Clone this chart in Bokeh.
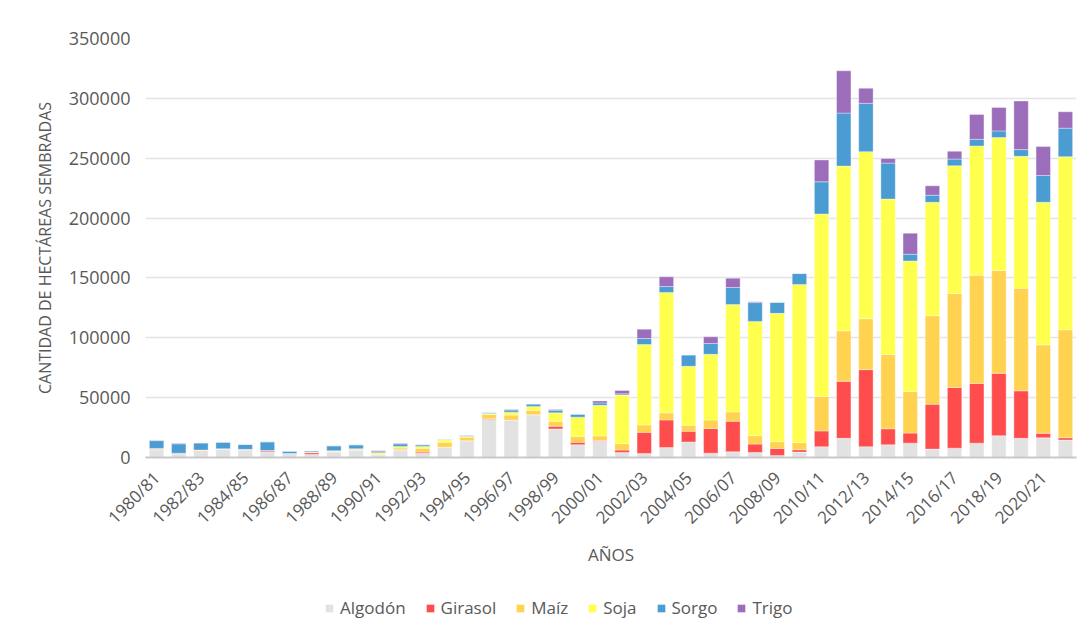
from bokeh.plotting import figure
from bokeh.layouts import column
from bokeh.models import FixedTicker, NumeralTickFormatter, Range1d, Legend, LegendItem
from bokeh.embed import file_html
from bokeh.resources import INLINE
import math

years = ["1980/81", "1981/82", "1982/83", "1983/84", "1984/85", "1985/86", "1986/87",
         "1987/88", "1988/89", "1989/90", "1990/91", "1991/92", "1992/93", "1993/94",
         "1994/95", "1995/96", "1996/97", "1997/98", "1998/99", "1999/00", "2000/01",
         "2001/02", "2002/03", "2003/04", "2004/05", "2005/06", "2006/07", "2007/08",
         "2008/09", "2009/10", "2010/11", "2011/12", "2012/13", "2013/14", "2014/15",
         "2015/16", "2016/17", "2017/18", "2018/19", "2019/20", "2020/21", "2021/22"]

algodon = [6500, 3000, 5200, 7000, 6300, 4700, 3100, 2800, 4800, 6400, 2300, 6400, 3600, 8600,
           14000, 31800, 31200, 35700, 23900, 10700, 13500, 4200,
           3400, 8400, 12900, 3600, 4800, 4200, 1700, 4500,
           9000, 16000, 9000, 10600, 12000, 7000, 7800, 12000, 18200, 16000, 16500, 14600]
girasol = [300, 600, 500, 0, 500, 1100, 300, 1400, 0, 0, 0, 0, 900, 0,
           0, 500, 0, 0, 2200, 2000, 800, 2000,
           17600, 23000, 9000, 20700, 25500, 7000, 5900, 2000,
           13200, 47600, 64400, 13400, 8400, 37500, 50700, 49900, 52100, 39700, 3700, 1900]
maiz = [500, 0, 500, 300, 0, 0, 0, 300, 400, 600, 500, 1500, 3300, 4200,
        3000, 3600, 4200, 3600, 4200, 5000, 3700, 5300,
        6200, 5900, 5000, 7000, 7800, 7000, 5600, 5900,
        28800, 42200, 42500, 62100, 34800, 73900, 78400, 90400, 85900, 85700, 73900, 90200]
soja = [300, 0, 0, 0, 0, 0, 0, 0, 400, 300, 1200, 1300, 1400, 2000,
        800, 800, 2500, 3400, 7000, 16000, 25600, 40700,
        67200, 100500, 49300, 54900, 89600, 95500, 107200, 132200,
        152400, 137600, 139600, 129800, 109000, 94800, 106800, 107900, 111000, 110200, 119100, 144600]
sorgo = [6500, 7800, 6000, 5500, 4100, 7300, 1900, 1000, 4200, 3300, 800, 2200, 1400, 500,
         700, 800, 1700, 2000, 2200, 2500, 2000, 1000,
         5000, 5000, 9500, 9000, 14300, 15700, 9200, 9200,
         26900, 44300, 40300, 30000, 5600, 5900, 5600, 5600, 5600, 5600, 22400, 23800]
trigo = [300, 500, 0, 0, 0, 0, 0, 0, 0, 0, 800, 400, 0, 0,
         0, 0, 500, 0, 500, 0, 1700, 2800,
         7800, 8100, 0, 5600, 7800, 800, 0, 0,
         18200, 35300, 12600, 3900, 17600, 7800, 6500, 20800, 19600, 40600, 24100, 13700]

series_names = ["Algodón", "Girasol", "Maíz", "Soja", "Sorgo", "Trigo"]
colors = ["#e2e2e2", "#ff4d4d", "#ffd24f", "#ffff4d", "#4b9cd3", "#9b6dbb"]
y_ticks = [0, 50000, 100000, 150000, 200000, 250000, 300000, 350000]

idx = list(range(len(years)))
data = {"x": idx, "Algodón": algodon, "Girasol": girasol, "Maíz": maiz,
        "Soja": soja, "Sorgo": sorgo, "Trigo": trigo}

TXT = "#595959"
FONT = "Open Sans"

p = figure(frame_width=931, frame_height=419, output_backend="svg", toolbar_location=None,
           x_range=Range1d(-0.5, len(years) - 0.5), y_range=Range1d(0, 350000),
           min_border_left=145, min_border_right=7, min_border_top=38, min_border_bottom=120)

rs = p.vbar_stack(series_names, x="x", width=0.65, source=data, color=colors,
                  line_color="white", line_width=0.6, line_alpha=0.6)

p.outline_line_color = None
p.background_fill_color = "white"
p.border_fill_color = "white"

p.xgrid.grid_line_color = None
p.ygrid.grid_line_color = "#e4e4e4"
p.ygrid.grid_line_width = 1.3
p.ygrid.ticker = FixedTicker(ticks=y_ticks)

xa = p.xaxis[0]
xa.ticker = FixedTicker(ticks=idx[::2])
xa.major_label_overrides = {i: years[i] for i in idx}
xa.major_label_orientation = math.pi / 4
xa.major_tick_line_color = None
xa.minor_tick_line_color = None
xa.axis_line_color = "#c9c9c9"
xa.axis_line_width = 2
xa.major_label_text_font = FONT
xa.major_label_text_font_size = "17px"
xa.major_label_text_color = TXT
xa.major_label_standoff = 11
xa.axis_label = "AÑOS"
xa.axis_label_text_font = FONT
xa.axis_label_text_font_size = "17px"
xa.axis_label_text_font_style = "normal"
xa.axis_label_text_color = TXT
xa.axis_label_standoff = 4

ya = p.yaxis[0]
ya.ticker = FixedTicker(ticks=y_ticks)
ya.formatter = NumeralTickFormatter(format="0")
ya.axis_line_color = None
ya.major_tick_line_color = None
ya.minor_tick_line_color = None
ya.major_tick_out = 0
ya.major_label_text_font = FONT
ya.major_label_text_font_size = "18px"
ya.major_label_text_color = TXT
ya.major_label_standoff = 15
ya.axis_label = "CANTIDAD DE HECTÁREAS SEMBRADAS"
ya.axis_label_text_font = FONT
ya.axis_label_text_font_size = "16px"
ya.axis_label_text_font_style = "normal"
ya.axis_label_text_color = TXT
ya.axis_label_standoff = 10

# legend strip below the chart
lf = figure(width=1075, height=55, output_backend="svg", toolbar_location=None,
            x_range=Range1d(-0.5, len(years) - 0.5), y_range=Range1d(0, 350000),
            min_border=0)
lf.axis.visible = False
lf.grid.visible = False
lf.outline_line_color = None
lrs = lf.vbar_stack(series_names, x="x", width=0.65, source=data, color=colors,
                    line_color="white", line_width=0.6, line_alpha=0.6)
for r in lrs:
    r.visible = False

legend = Legend(items=[LegendItem(label=n, renderers=[r]) for n, r in zip(series_names, lrs)],
                orientation="horizontal", location=(179, 13),
                label_text_font=FONT, label_text_font_size="17px", label_text_color=TXT,
                glyph_width=10, glyph_height=10, spacing=19, label_standoff=6,
                border_line_color=None, background_fill_alpha=0, margin=0, padding=4,
                inactive_fill_alpha=0, click_policy="none")
lf.add_layout(legend, "center")

layout = column(p, lf, spacing=0)

open("out.html", "w").write(file_html(layout, INLINE))
